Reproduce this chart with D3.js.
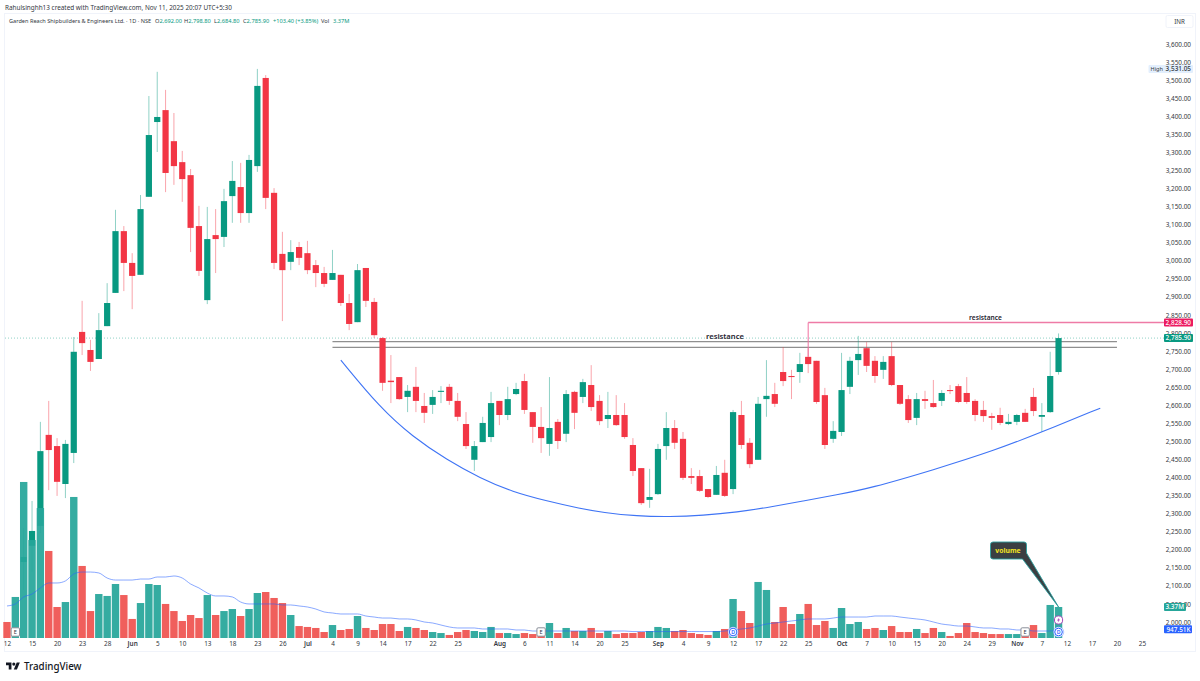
<!DOCTYPE html>
<html>
<head>
<meta charset="utf-8">
<title>Garden Reach Shipbuilders daily chart</title>
<script src="https://cdn.jsdelivr.net/npm/d3@7"></script>
<style>
  html, body { margin: 0; padding: 0; background: #fff; }
  svg { display: block; }
  text { font-family: "Noto Sans", "Open Sans", sans-serif; }
</style>
</head>
<body>
<svg id="chart" width="1200" height="681"></svg>
<script>
// Daily sessions, from 12 May to 11 Nov 2025. The first two sessions only carry volume.
const open = [null,null,2166,2211,2266,2518,2487,2382,2468,2803,2753,2728,2819,2911,3082,2994,2961,3177,3384,3417,3331,3273,3237,3096,2891,3071,3066,3179,3204,3132,3262,3506,3188,3019,2997,3038,3021,2988,2966,2947,2961,2883,2830,2980,2886,2786,2668,2678,2623,2651,2598,2601,2637,2651,2612,2548,2449,2498,2512,2612,2573,2631,2667,2581,2540,2493,2554,2521,2637,2623,2656,2612,2562,2573,2573,2490,2426,2338,2354,2487,2537,2507,2404,2404,2368,2352,2413,2368,2573,2496,2449,2617,2631,2692,2681,2692,2734,2723,2628,2507,2526,2651,2725,2758,2723,2698,2736,2656,2617,2565,2617,2606,2612,2642,2653,2634,2612,2587,2570,2573,2548,2554,2579,2623,2568,2581,2692];
const high = [null,null,2260,2335,2554,2612,2509,2504,2789,2889,2781,2855,2938,3141,3096,3021,3182,3456,3523,3473,3409,3304,3254,3152,3149,3143,3199,3276,3271,3293,3531.05,3514,3201,3080,3057,3052,3055,3002,2983,3030,2961,2908,2991,2980,2897,2789,2739,2678,2656,2706,2634,2642,2653,2659,2634,2581,2501,2568,2637,2612,2651,2662,2687,2581,2595,2678,2562,2642,2640,2673,2711,2628,2637,2628,2606,2509,2426,2424,2493,2581,2559,2526,2426,2421,2368,2432,2449,2587,2612,2509,2623,2725,2662,2761,2698,2745,2758,2723,2648,2556,2745,2734,2792,2775,2736,2736,2775,2656,2628,2634,2640,2670,2642,2656,2659,2678,2617,2612,2579,2593,2576,2576,2590,2648,2606,2748,2798.8];
const low = [null,null,2089,2139,2246,2365,2349,2343,2440,2739,2695,2728,2819,2911,2916,2866,2961,3177,3301,3190,3210,3163,3024,2958,2880,2966,3038,3105,3105,3105,3246,3143,2977,2833,2974,2988,2963,2927,2927,2947,2875,2808,2830,2872,2786,2640,2606,2615,2581,2581,2551,2576,2606,2601,2556,2479,2418,2498,2498,2545,2559,2628,2576,2496,2468,2460,2479,2498,2534,2606,2584,2545,2537,2543,2507,2404,2324,2316,2352,2449,2479,2393,2382,2360,2343,2352,2346,2354,2479,2426,2449,2568,2595,2653,2617,2662,2689,2604,2479,2496,2515,2631,2684,2692,2662,2673,2653,2601,2551,2545,2590,2593,2598,2631,2606,2604,2556,2554,2532,2545,2545,2545,2554,2570,2526,2579,2684.8];
const close = [null,null,2180,2252,2473,2476,2388,2493,2748,2772,2720,2808,2883,3082,2994,2958,3143,3348,3398,3243,3262,3226,3091,2972,3060,3060,3165,3221,3132,3279,3484,3174,2994,2974,3024,3008,2974,2966,2936,2966,2883,2825,2974,2889,2794,2662,2664,2617,2640,2612,2579,2623,2640,2612,2568,2487,2487,2551,2606,2573,2617,2645,2587,2540,2509,2537,2501,2631,2579,2664,2595,2556,2573,2545,2512,2418,2329,2346,2479,2537,2496,2399,2399,2363,2346,2407,2349,2581,2490,2437,2604,2626,2604,2667,2678,2714,2714,2609,2490,2529,2642,2723,2742,2709,2681,2720,2656,2604,2559,2617,2612,2595,2634,2640,2609,2609,2573,2570,2565,2551,2554,2573,2554,2584,2573,2681,2785.9];
// Volume in millions of shares, with its moving average.
const volume = [1.74,4.46,16.96,10.65,14.13,9.46,3.37,3.91,15.33,7.83,2.93,4.78,4.57,5.87,4.67,2.07,3.80,5.87,5.76,3.70,2.93,1.85,2.50,2.17,4.67,2.50,2.93,3.15,2.39,3.15,4.89,5.00,4.35,3.80,2.50,1.30,1.20,1.09,0.65,1.41,0.87,0.98,2.39,1.09,0.87,1.52,1.52,0.76,1.20,1.09,0.87,0.65,0.54,0.33,0.65,0.87,0.76,0.65,1.20,0.54,0.54,0.43,0.54,0.43,0.76,1.63,0.54,1.09,0.76,0.76,1.09,0.54,0.76,0.43,0.54,0.54,0.65,0.76,1.20,1.09,0.76,0.87,0.54,0.43,0.33,0.76,0.98,4.24,2.93,1.63,6.09,5.22,1.74,3.37,1.52,2.61,3.70,1.41,1.85,1.09,3.26,1.52,1.74,0.98,1.09,0.87,1.30,0.65,0.65,0.98,0.54,1.09,0.65,0.22,0.54,1.63,0.65,0.54,0.43,0.43,0.43,0.43,0.54,1.41,0.54,3.59,3.37];
const volumeAverage = [3.48,3.70,4.46,4.78,5.44,5.98,5.98,6.20,6.96,7.17,7.17,7.07,6.52,6.30,6.30,6.30,6.41,6.41,6.63,6.63,6.74,6.52,5.87,5.44,4.89,4.57,4.57,4.46,3.91,3.70,3.70,3.70,3.70,3.59,3.59,3.48,3.37,3.15,2.83,2.72,2.61,2.61,2.61,2.39,2.28,2.17,2.17,2.07,2.07,1.96,1.74,1.63,1.41,1.20,1.09,1.09,1.09,0.98,0.98,0.98,0.98,0.87,0.87,0.76,0.76,0.76,0.76,0.76,0.76,0.76,0.76,0.76,0.76,0.76,0.76,0.70,0.70,0.70,0.70,0.70,0.70,0.70,0.70,0.70,0.70,0.70,0.76,0.87,0.98,1.09,1.30,1.52,1.63,1.74,1.85,1.96,2.07,2.07,2.07,2.17,2.28,2.28,2.28,2.28,2.39,2.39,2.39,2.28,2.17,2.07,1.96,1.74,1.52,1.41,1.30,1.30,1.20,1.09,1.09,0.98,0.98,0.87,0.87,0.76,0.76,0.76,0.95];
const leadingVolumeUp = [false, true];

// Session positions of the time-axis labels.
const timeTicks = [0,3,6,9,12,15,18,21,24,27,30,33,36,39,42,45,48,51,54,59,62,65,68,71,74,78,81,84,87,90,93,96,100,103,106,109,112,115,118,121,124,127,130,133,136];
const timeLabels = ["12","15","20","23","28","Jun","5","10","13","18","23","26","Jul","4","9","14","17","22","25","Aug","6","11","14","20","25","Sep","4","9","12","17","22","25","Oct","7","10","15","20","24","29","Nov","7","12","17","20","25"];
const monthLabels = ["Jun","Jul","Aug","Sep","Oct","Nov"];
const priceTicks = d3.range(2000, 3601, 50);

// Drawn studies: the rounded base, the two resistance bands and the breakout level.
const arcSession = [40,44.7,48.6,52.7,56.7,60.6,64.7,68.7,71.4,75.5,79.4,83.4,87.5,91.4,95.4,99.4,103.4,111,118.5,124,131];
const arcPrice = [2725,2593,2513,2449,2398,2360,2335,2314,2303,2293,2291,2295,2304,2318,2335,2352,2370,2421,2476,2526,2592];
const resistanceLevels = [2776, 2760];
const resistanceSpan = [39, 133];
const breakoutLevel = 2828.9;
const breakoutSession = 96;
const breakoutBase = 2734;
const lastClose = 2785.9;
const sessionHigh = 3531.05;
const earningsSessions = [1, 64, 122];
const dividendSessions = [87, 126];
const splitSession = 126;

const svg = d3.select("#chart");
const GREEN = "#089981", RED = "#f23645", VOL_GREEN = "#26a69a", VOL_RED = "#ef5350";
const INK = "#333842";

const x = d3.scaleLinear().domain([0, 136]).range([7, 1142]);
const y = d3.scaleLinear().domain([2000, 3600]).range([622, 44]);
const yVolume = d3.scaleLinear().domain([0, 17]).range([638, 481.6]);

// Pane frame
svg.append("rect").attr("x", 4.5).attr("y", 13.5).attr("width", 1191).attr("height", 638)
  .attr("fill", "none").attr("stroke", "#f0f3fa");

// Header lines
svg.append("text").attr("x", 5).attr("y", 9.5).attr("font-size", 6.4).attr("fill", INK)
  .text("Rahulsinghh13 created with TradingView.com, Nov 11, 2025 20:07 UTC+5:30");

const legend = svg.append("text").attr("y", 22.5).attr("font-size", 5.7).attr("fill", INK);
legend.append("tspan").attr("x", 9).attr("font-size", 5.6).text("Garden Reach Shipbuilders & Engineers Ltd. · 1D · NSE");
[["O", "2,692.00", 155], ["H", "2,798.80", 184], ["L", "2,684.80", 214], ["C", "2,785.90", 243]].forEach(([k, v, px]) => {
  legend.append("tspan").attr("x", px).text(k);
  legend.append("tspan").attr("fill", GREEN).text(v);
});
legend.append("tspan").attr("x", 273).attr("fill", GREEN).text("+103.40 (+3.85%)");
legend.append("tspan").attr("x", 321).text("Vol");
legend.append("tspan").attr("x", 333).attr("fill", GREEN).text("3.37M");

// Last-price guide
svg.append("line").attr("x1", 5).attr("x2", 1164)
  .attr("y1", y(lastClose)).attr("y2", y(lastClose))
  .attr("stroke", GREEN).attr("stroke-opacity", 0.45).attr("stroke-dasharray", "1 2");

// Resistance lines sit under the candles
svg.append("g").selectAll("line").data(resistanceLevels).join("line")
  .attr("x1", x(resistanceSpan[0])).attr("x2", x(resistanceSpan[1]))
  .attr("y1", d => y(d)).attr("y2", d => y(d))
  .attr("stroke", "#8f8f8f").attr("stroke-width", 1.2);

// Candles
const sessions = d3.range(volume.length);
const candles = sessions.filter(i => open[i] !== null);
const isUp = i => open[i] === null ? leadingVolumeUp[i] : close[i] >= open[i];

const candleLayer = svg.append("g");
candleLayer.selectAll("line").data(candles).join("line")
  .attr("x1", i => x(i)).attr("x2", i => x(i))
  .attr("y1", i => y(high[i])).attr("y2", i => y(low[i]))
  .attr("stroke", i => isUp(i) ? GREEN : RED)
  .attr("stroke-opacity", 0.45).attr("stroke-width", 1);
candleLayer.selectAll("rect").data(candles).join("rect")
  .attr("x", i => x(i) - 3.1).attr("width", 6.2)
  .attr("y", i => y(Math.max(open[i], close[i])))
  .attr("height", i => Math.max(1, Math.abs(y(open[i]) - y(close[i]))))
  .attr("fill", i => isUp(i) ? GREEN : RED);

// Volume pane
svg.append("g").selectAll("rect").data(sessions).join("rect")
  .attr("x", i => x(i) - 3.7).attr("width", 7.4)
  .attr("y", i => yVolume(volume[i]))
  .attr("height", i => yVolume(0) - yVolume(volume[i]))
  .attr("fill", i => isUp(i) ? VOL_GREEN : VOL_RED)
  .attr("fill-opacity", 0.93);

svg.append("path").datum(sessions)
  .attr("fill", "none").attr("stroke", "#2962ff").attr("stroke-opacity", 0.55).attr("stroke-width", 1)
  .attr("d", d3.line().x(i => x(i)).y(i => yVolume(volumeAverage[i])).curve(d3.curveMonotoneX));

// Rounded base
svg.append("path").datum(d3.zip(arcSession, arcPrice))
  .attr("fill", "none").attr("stroke", "#3f74f5").attr("stroke-width", 1.1)
  .attr("d", d3.line().x(d => x(d[0])).y(d => y(d[1])).curve(d3.curveBasis));

// Breakout level with its leader
svg.append("path")
  .attr("d", `M${x(breakoutSession)},${y(breakoutBase)}V${y(breakoutLevel)}`)
  .attr("fill", "none").attr("stroke", "#f0709f").attr("stroke-width", 1);
svg.append("line").attr("x1", x(breakoutSession)).attr("x2", 1164)
  .attr("y1", y(breakoutLevel)).attr("y2", y(breakoutLevel))
  .attr("stroke", "#ee7ba6").attr("stroke-width", 1.4);

// Drawing captions
svg.append("text").attr("x", 725).attr("y", 339).attr("text-anchor", "middle")
  .attr("font-size", 7.6).attr("font-weight", 600).attr("fill", "#1f2430").text("resistance");
svg.append("text").attr("x", 985.5).attr("y", 319.5).attr("text-anchor", "middle")
  .attr("font-size", 6.6).attr("font-weight", 600).attr("fill", "#1f2430").text("resistance");

// Axes
const timeAxis = d3.axisBottom(x).tickValues(timeTicks).tickSize(0).tickPadding(0)
  .tickFormat(i => timeLabels[timeTicks.indexOf(i)]);
const timeGroup = svg.append("g").attr("transform", "translate(0,641)").call(timeAxis);
timeGroup.select(".domain").remove();
timeGroup.selectAll("text").attr("font-size", 6.4).attr("fill", INK)
  .attr("font-family", '"Noto Sans", sans-serif')
  .attr("font-weight", function () { return monthLabels.includes(this.textContent) ? 600 : 400; });

const priceAxis = d3.axisLeft(y).tickValues(priceTicks).tickSize(0).tickPadding(0)
  .tickFormat(d3.format(",.2f"));
const priceGroup = svg.append("g").attr("transform", "translate(1191,0)").call(priceAxis);
priceGroup.select(".domain").remove();
priceGroup.selectAll("text").attr("font-size", 6.4).attr("fill", INK)
  .attr("font-family", '"Noto Sans", sans-serif');

// Currency chip
svg.append("rect").attr("x", 1166).attr("y", 15.5).attr("width", 27).attr("height", 12)
  .attr("rx", 1.5).attr("fill", "#fff").attr("stroke", "#f0f3fa");
svg.append("text").attr("x", 1179.5).attr("y", 23.8).attr("text-anchor", "middle")
  .attr("font-size", 6.2).attr("fill", INK).text("INR");

// Price-scale flags
function flag(x0, x1, cy, fill, label, color, anchorX) {
  svg.append("rect").attr("x", x0).attr("y", cy - 4).attr("width", x1 - x0).attr("height", 8)
    .attr("rx", 1).attr("fill", fill);
  svg.append("text").attr("x", anchorX).attr("y", cy + 2.3).attr("text-anchor", "end")
    .attr("font-size", 6.4).attr("font-weight", 500).attr("fill", color).text(label);
}
const money = d3.format(",.2f");
flag(1148.5, 1193, y(sessionHigh), "#e3effd", money(sessionHigh), INK, 1191);
svg.append("text").attr("x", 1150.5).attr("y", y(sessionHigh) + 2.1)
  .attr("font-size", 5.6).attr("fill", INK).text("High");
flag(1164, 1193, y(breakoutLevel), "#ec1a60", money(breakoutLevel), "#fff", 1191);
flag(1164, 1193, y(lastClose), GREEN, money(lastClose), "#fff", 1191);
flag(1164, 1186, yVolume(volume[126]), VOL_GREEN, "3.37M", "#fff", 1184);
flag(1164, 1192, yVolume(volumeAverage[126]), "#2962ff", "947.51K", "#fff", 1190.5);

// Volume callout, its pointer ending on the last volume bar
const tipX = x(126), tipY = yVolume(volume[126]);
svg.append("path")
  .attr("d", `M993,542H1024a2.5,2.5 0 0 1 2.5,2.5V553L${tipX},${tipY}L1022.5,559H993a2.5,2.5 0 0 1 -2.5,-2.5V544.5a2.5,2.5 0 0 1 2.5,-2.5Z`)
  .attr("fill", "#3b3f42").attr("stroke", "#2a9d9d").attr("stroke-width", 0.9);
svg.append("text").attr("x", 1008).attr("y", 552.8).attr("text-anchor", "middle")
  .attr("font-size", 6.8).attr("font-weight", 700).attr("fill", "#f4e521").text("volume");

// Event markers on the volume pane
const markerY = 632;
const earnings = svg.append("g").selectAll("g").data(earningsSessions).join("g")
  .attr("transform", i => `translate(${x(i)},${markerY})`);
earnings.append("rect").attr("x", -4.2).attr("y", -4.2).attr("width", 8.4).attr("height", 8.4).attr("rx", 1.2)
  .attr("fill", "#fff").attr("stroke", "#8a8f99").attr("stroke-width", 1);
earnings.append("text").attr("y", 2).attr("text-anchor", "middle").attr("font-size", 5.6).attr("fill", INK).text("E");

const dividends = svg.append("g").selectAll("g").data(dividendSessions).join("g")
  .attr("transform", i => `translate(${x(i)},${markerY})`);
dividends.append("circle").attr("r", 5.2).attr("fill", "#fff").attr("stroke", "#2962ff").attr("stroke-opacity", 0.35).attr("stroke-width", 1);
dividends.append("circle").attr("r", 3.8).attr("fill", "#fff").attr("stroke", "#2962ff").attr("stroke-width", 1);
dividends.append("text").attr("y", 1.9).attr("text-anchor", "middle").attr("font-size", 5.2).attr("font-weight", 600).attr("fill", "#2962ff").text("D");

const split = svg.append("g").attr("transform", `translate(${x(splitSession)},620)`);
split.append("circle").attr("r", 4.1).attr("fill", "#fff").attr("stroke", "#ab47bc").attr("stroke-width", 1);
split.append("path").attr("d", "M0.8,-2.6L-1.6,0.5H-0.2L-0.8,2.6L1.6,-0.5H0.2Z").attr("fill", "#ab47bc");

// Brand mark and wordmark
const brand = svg.append("g").attr("transform", "translate(6,661) scale(0.39)").attr("fill", "#131722");
brand.append("path").attr("d", "M14 22H7V11H0V4h14v18zM28 22h-8l7.5-18h8L28 22z");
brand.append("circle").attr("cx", 20).attr("cy", 8).attr("r", 4);
svg.append("text").attr("x", 24).attr("y", 670).attr("font-size", 9.8).attr("font-weight", 500)
  .attr("font-family", "Inter, sans-serif").attr("fill", "#131722").text("TradingView");
</script>
</body>
</html>
